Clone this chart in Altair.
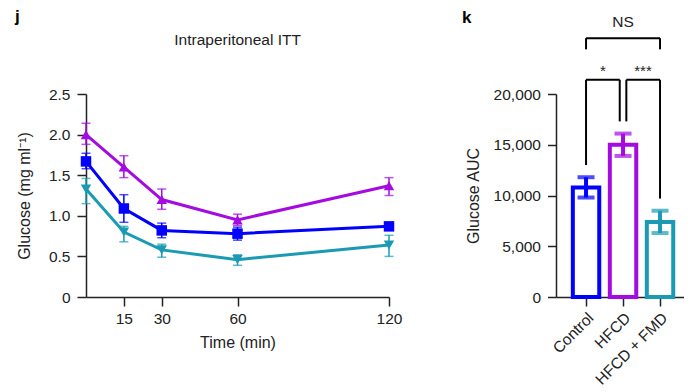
import altair as alt
import pandas as pd

# ---------------- data ----------------
times = [0, 15, 30, 60, 120]
groups = ["Control", "HFCD", "HFCD + FMD"]
colors = ["#0000ff", "#a30be0", "#1a9bb3"]
shapes = ["square", "triangle-up", "triangle-down"]

control_mean = [1.67, 1.09, 0.82, 0.78, 0.87]
control_lo = [1.58, 0.92, 0.73, 0.70, 0.83]
control_hi = [1.77, 1.26, 0.91, 0.86, 0.91]
hfcd_mean = [2.00, 1.60, 1.20, 0.95, 1.37]
hfcd_lo = [1.88, 1.47, 1.08, 0.88, 1.25]
hfcd_hi = [2.14, 1.74, 1.33, 1.02, 1.47]
fmd_mean = [1.33, 0.80, 0.58, 0.46, 0.64]
fmd_lo = [1.15, 0.68, 0.49, 0.39, 0.50]
fmd_hi = [1.46, 0.87, 0.65, 0.52, 0.76]

y_ticks_left = [0, 0.5, 1.0, 1.5, 2.0, 2.5]
x_ticks_left = [15, 30, 60, 120]

auc_mean = [10800, 15000, 7400]
auc_lo = [9800, 13900, 6300]
auc_hi = [11800, 16100, 8500]
y_ticks_right = [0, 5000, 10000, 15000, 20000]

# significance brackets (AUC units)
ns_top = 25500
ns_leg_bottom = 24400
pair_top = 21400
leg_bottom_control = 13000
leg_bottom_hfcd = 17300
leg_bottom_fmd = 9700
ns_label_y = 27100
star_label_y = 21750

FONT = "Liberation Sans"
AX = "#222222"

# ---------------- left panel ----------------
rows = []
for g, m, lo, hi in [("Control", control_mean, control_lo, control_hi),
                     ("HFCD", hfcd_mean, hfcd_lo, hfcd_hi),
                     ("HFCD + FMD", fmd_mean, fmd_lo, fmd_hi)]:
    for t, a, b, c in zip(times, m, lo, hi):
        rows.append({"group": g, "time": t, "mean": a, "lo": b, "hi": c})
df_line = pd.DataFrame(rows)

color = alt.Color("group:N", scale=alt.Scale(domain=groups, range=colors), legend=None)
xL = alt.X("time:Q", scale=alt.Scale(domain=[0, 120], nice=False),
           axis=alt.Axis(values=x_ticks_left, title="Time (min)", grid=False, labelFlush=False,
                         tickSize=9, labelPadding=5, titlePadding=8))
yL = alt.Y("mean:Q", scale=alt.Scale(domain=[0, 2.5], nice=False),
           axis=alt.Axis(values=y_ticks_left, title="Glucose (mg ml\u207b\u00b9)", grid=False,
                         tickSize=9, labelPadding=7, titlePadding=16, labelFlush=False,
                         labelExpr="datum.value == 0 ? '0' : format(datum.value, '.1f')"))

baseL = alt.Chart(df_line)
err_rule = baseL.mark_rule(strokeWidth=1.5).encode(x="time:Q", y="lo:Q", y2="hi:Q", color=color)
cap_lo = baseL.mark_tick(orient="horizontal", size=9, thickness=1.5).encode(x="time:Q", y="lo:Q", color=color)
cap_hi = baseL.mark_tick(orient="horizontal", size=9, thickness=1.5).encode(x="time:Q", y="hi:Q", color=color)
lines = baseL.mark_line(strokeWidth=3).encode(x=xL, y=yL, color=color, detail="group:N")
points = baseL.mark_point(filled=True, size=110, opacity=1).encode(
    x="time:Q", y="mean:Q", color=color,
    shape=alt.Shape("group:N", scale=alt.Scale(domain=groups, range=shapes), legend=None))

title_left = alt.Chart(pd.DataFrame({"t": ["Intraperitoneal ITT"]})).mark_text(
    font=FONT, fontSize=15.5, color="#222", baseline="alphabetic", align="center"
).encode(text="t:N", x=alt.value(151.6), y=alt.value(-49))
letter_j = alt.Chart(pd.DataFrame({"t": ["j"]})).mark_text(
    font=FONT, fontSize=17, fontWeight="bold", color="#000", baseline="alphabetic", align="left"
).encode(text="t:N", x=alt.value(-71), y=alt.value(-72))

left = alt.layer(lines, err_rule, cap_lo, cap_hi, points, title_left, letter_j).properties(
    width=303, height=203)

# ---------------- right panel ----------------
df_bar = pd.DataFrame({"group": groups, "mean": auc_mean, "lo": auc_lo, "hi": auc_hi})
xR = alt.X("group:N", sort=groups,
           scale=alt.Scale(domain=groups, paddingInner=0.286, paddingOuter=0.373, align=0.61),
           axis=alt.Axis(title=None, labelAngle=-45, tickSize=9, labelPadding=4))
yR = alt.Y("mean:Q", scale=alt.Scale(domain=[0, 20000], nice=False),
           axis=alt.Axis(values=y_ticks_right, format=",.0f", title="Glucose AUC", grid=False,
                         tickSize=8.5, labelPadding=7, titlePadding=12, labelFlush=False))
baseR = alt.Chart(df_bar)
bars = baseR.mark_bar(fill="white", strokeWidth=4).encode(
    x=xR, y=yR, stroke=alt.Stroke("group:N", scale=alt.Scale(domain=groups, range=colors), legend=None))
colorR = alt.Color("group:N", scale=alt.Scale(domain=groups, range=colors), legend=None)
bar_err = baseR.mark_rule(strokeWidth=4).encode(x="group:N", y="lo:Q", y2="hi:Q", color=colorR)
bar_cap_lo = baseR.mark_tick(orient="horizontal", size=17, thickness=4).encode(x="group:N", y="lo:Q", color=colorR)
bar_cap_hi = baseR.mark_tick(orient="horizontal", size=17, thickness=4).encode(x="group:N", y="hi:Q", color=colorR)

# brackets
df_h0 = pd.DataFrame({"a": [groups[0]], "b": [groups[2]], "y": [ns_top]})
df_v0 = pd.DataFrame({
    "g": [groups[0], groups[2], groups[0], groups[2]],
    "y": [ns_top, ns_top, pair_top, pair_top],
    "y2": [ns_leg_bottom, ns_leg_bottom, leg_bottom_control, leg_bottom_fmd]})
br_h_ns = alt.Chart(df_h0).mark_rule(strokeWidth=2, color="#000").encode(x="a:N", x2="b:N", y="y:Q")
br_v = alt.Chart(df_v0).mark_rule(strokeWidth=2, color="#000").encode(x="g:N", y="y:Q", y2="y2:Q")
br_h_left = alt.Chart(pd.DataFrame({"a": [groups[0]], "b": [groups[1]], "y": [pair_top]})).mark_rule(
    strokeWidth=2, color="#000", x2Offset=-3.3).encode(x="a:N", x2="b:N", y="y:Q")
br_h_right = alt.Chart(pd.DataFrame({"a": [groups[1]], "b": [groups[2]], "y": [pair_top]})).mark_rule(
    strokeWidth=2, color="#000", xOffset=3.3).encode(x="a:N", x2="b:N", y="y:Q")
df_mid = pd.DataFrame({"g": [groups[1]], "y": [pair_top], "y2": [leg_bottom_hfcd]})
br_v_ml = alt.Chart(df_mid).mark_rule(strokeWidth=2, color="#000", xOffset=-3.3).encode(x="g:N", y="y:Q", y2="y2:Q")
br_v_mr = alt.Chart(df_mid).mark_rule(strokeWidth=2, color="#000", xOffset=3.3).encode(x="g:N", y="y:Q", y2="y2:Q")

ns_text = alt.Chart(pd.DataFrame({"g": [groups[1]], "y": [ns_label_y], "t": ["NS"]})).mark_text(
    font=FONT, fontSize=15.5, color="#222", baseline="middle").encode(x="g:N", y="y:Q", text="t:N")
star1 = alt.Chart(pd.DataFrame({"g": [groups[0]], "y": [star_label_y], "t": ["*"]})).mark_text(
    font=FONT, fontSize=15, color="#222", baseline="alphabetic", dx=17).encode(x="g:N", y="y:Q", text="t:N")
star3 = alt.Chart(pd.DataFrame({"g": [groups[1]], "y": [star_label_y], "t": ["***"]})).mark_text(
    font=FONT, fontSize=15, color="#222", baseline="alphabetic", dx=20).encode(x="g:N", y="y:Q", text="t:N")
letter_k = alt.Chart(pd.DataFrame({"t": ["k"]})).mark_text(
    font=FONT, fontSize=17, fontWeight="bold", color="#000", baseline="alphabetic", align="left"
).encode(text="t:N", x=alt.value(-94), y=alt.value(-71))

right = alt.layer(bars, bar_err, bar_cap_lo, bar_cap_hi, br_h_ns, br_v, br_h_left, br_h_right,
                  br_v_ml, br_v_mr, ns_text, star1, star3, letter_k).properties(width=128, height=203)

chart = alt.hconcat(left, right, spacing=60).properties(
    padding={"left": 7, "top": 0, "right": 0, "bottom": 0}
).configure_view(stroke=None).configure_axis(
    labelFont=FONT, titleFont=FONT, labelFontSize=15.5, titleFontSize=16,
    labelColor="#222", titleColor="#222", domainColor=AX, tickColor=AX,
    domainWidth=1.5, tickWidth=1.5, titleFontWeight="normal"
).configure_text(font=FONT)

chart.save("out.html", embed_options={"renderer": "svg", "actions": False})
